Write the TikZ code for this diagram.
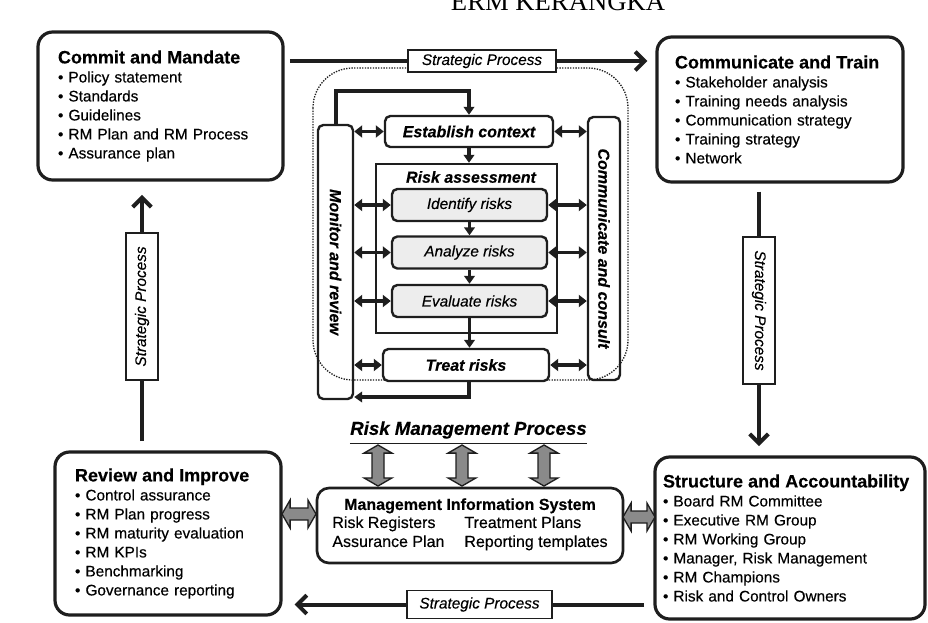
\documentclass[tikz,border=0pt]{standalone}
\usepackage{fontspec}
\setmainfont{Liberation Sans}[FakeBold=0.35]
\newfontfamily\serifhead{Liberation Serif}
\usetikzlibrary{arrows.meta,shapes.arrows}
\newcommand\boxtitle[1]{{\bfseries\fontsize{13.5}{14.25}\selectfont #1}}

\begin{document}
\begin{tikzpicture}[x=0.75pt,y=-0.75pt,
  panel/.style={draw=ink,line width=2.4pt,rounded corners=11pt,inner sep=0pt,align=left,
    font=\fontsize{11.5}{14.25}\selectfont},
  tag/.style={draw=ink,line width=1.3pt,fill=white,inner sep=0pt,
    font=\itshape\fontsize{11.5}{13}\selectfont},
  trunk/.style={draw=ink,line width=3pt},
  barb/.style={-{Straight Barb[length=7pt,width=14pt]}},
  bar/.style={draw=ink,line width=1.8pt,rounded corners=4pt},
  stage/.style={draw=ink,line width=1.8pt,rounded corners=4pt,fill=white,inner sep=0pt,
    font=\bfseries\itshape\fontsize{12}{14}\selectfont},
  task/.style={stage,fill=softgray,font=\itshape\fontsize{11.5}{14}\selectfont,
    minimum width=116.25pt,minimum height=24pt},
  flow/.style={draw=ink,line width=2.4pt,-{Triangle[length=6pt,width=8pt]}},
  link/.style={draw=ink,line width=2.4pt,{Triangle[length=6pt,width=9pt]}-{Triangle[length=6pt,width=9pt]}},
  fat/.style={double arrow,draw=ink,fill=fatgray,line width=1pt,inner xsep=0pt,inner ysep=4pt,
    double arrow head extend=6pt,double arrow tip angle=120}]
\definecolor{ink}{HTML}{1E1E1E}
\definecolor{fatgray}{HTML}{8A8A8A}
\definecolor{softgray}{HTML}{EDEDED}
\useasboundingbox (0,0) rectangle (928,622);

\node[font=\serifhead\fontsize{20}{22}\selectfont,anchor=base] (title) at (558,10) {ERM KERANGKA};

\draw[ink,line width=1pt,densely dotted,rounded corners=30pt] (313,68) rectangle (628,380);

\node[panel,minimum width=183.75pt,minimum height=111pt,text width=153.75pt] (commit) at (160.5,106)
  {\boxtitle{Commit and Mandate}\\ \textbullet\ Policy statement\\ \textbullet\ Standards\\
   \textbullet\ Guidelines\\ \textbullet\ RM Plan and RM Process\\ \textbullet\ Assurance plan};
\node[panel,minimum width=184.5pt,minimum height=108.75pt,text width=157.5pt] (train) at (780,109.5)
  {\boxtitle{Communicate and Train}\\ \textbullet\ Stakeholder analysis\\ \textbullet\ Training needs analysis\\
   \textbullet\ Communication strategy\\ \textbullet\ Training strategy\\ \textbullet\ Network};
\node[panel,minimum width=169.5pt,minimum height=122.25pt,text width=139.5pt] (review) at (168,533.5)
  {\boxtitle{Review and Improve}\\ \textbullet\ Control assurance\\ \textbullet\ RM Plan progress\\
   \textbullet\ RM maturity evaluation\\ \textbullet\ RM KPIs\\ \textbullet\ Benchmarking\\
   \textbullet\ Governance reporting};
\node[panel,minimum width=202.5pt,minimum height=121.5pt,text width=190.5pt] (structure) at (790,538)
  {\boxtitle{Structure and Accountability}\\ \textbullet\ Board RM Committee\\ \textbullet\ Executive RM Group\\
   \textbullet\ RM Working Group\\ \textbullet\ Manager, Risk Management\\ \textbullet\ RM Champions\\
   \textbullet\ Risk and Control Owners};
\node[panel,rounded corners=9pt,line width=2pt,align=center,minimum width=229.5pt,minimum height=56.25pt,
  font=\fontsize{12}{14.25}\selectfont] (mis) at (470,525.5)
  {\textbf{Management Information System}\\
   \begin{tabular}{@{}l@{\hspace{15pt}}l@{}}Risk Registers & Treatment Plans\\
   Assurance Plan & Reporting templates\end{tabular}};

\node[tag,minimum width=111pt,minimum height=16.5pt] (toplbl) at (482,61) {Strategic Process};
\node[tag,rotate=-90,minimum width=110pt,minimum height=24pt] (rightlbl) at (759,310.5) {Strategic Process};
\node[tag,minimum width=108.75pt,minimum height=21pt] (botlbl) at (479.5,604.5) {Strategic Process};
\node[tag,rotate=90,minimum width=110pt,minimum height=24pt] (leftlbl) at (142,306.5) {Strategic Process};

\draw[trunk,shorten <=4pt] (commit.east |- toplbl) -- (toplbl.west);
\draw[trunk,barb,shorten >=6pt] (toplbl.east) -- (train.west |- toplbl);
\draw[trunk,shorten <=6pt] (train.south -| rightlbl) -- (rightlbl.west);
\draw[trunk,barb,shorten >=7pt] (rightlbl.east) -- (structure.north -| rightlbl);
\draw[trunk,shorten <=7pt] (structure.west |- botlbl) -- (botlbl.east);
\draw[trunk,barb,shorten >=9pt] (botlbl.west) -- (review.east |- botlbl);
\draw[trunk,shorten <=7pt] (review.north -| leftlbl) -- (leftlbl.west);
\draw[trunk,barb,shorten >=10pt] (leftlbl.east) -- (commit.south -| leftlbl);

\node[bar,minimum width=26.25pt,minimum height=205.5pt,
  label={[rotate=-90,font=\bfseries\itshape\fontsize{12}{14}\selectfont]center:Monitor and review}] (monitor) at (335.5,262) {};
\node[bar,minimum width=24pt,minimum height=197.25pt,
  label={[rotate=-90,font=\bfseries\itshape\fontsize{12}{14}\selectfont]center:Communicate and consult}] (consult) at (604,248.5) {};
\node[stage,minimum width=126pt,minimum height=23.25pt] (establish) at (469,131.5) {Establish context};
\node[draw=ink,line width=1.8pt,minimum width=135.75pt,minimum height=126.75pt] (assess) at (466.5,248.5) {};
\node[font=\bfseries\itshape\fontsize{12}{14}\selectfont] (assesslbl) at (471,177) {Risk assessment};
\node[task] (identify) at (469.5,205) {Identify risks};
\node[task] (analyze) at (469.5,252.5) {Analyze risks};
\node[task] (evaluate) at (469.5,301) {Evaluate risks};
\node[stage,minimum width=124.5pt,minimum height=24pt] (treat) at (466,365) {Treat risks};

\coordinate (fbtop) at (336,91);
\coordinate (fbbot) at (469,397);
\draw[flow] (monitor.north -| fbtop) -- (fbtop) -| (establish.north);
\draw[flow] (establish.south) -- (establish.south |- assess.north);
\draw[flow] (identify.south) -- (analyze.north);
\draw[flow] (analyze.south) -- (evaluate.north);
\draw[flow] (evaluate.south) -- (evaluate.south |- treat.north);
\draw[flow] (treat.south -| fbbot) -- (fbbot) -- (fbbot -| monitor.east);
\foreach \s in {establish,identify,analyze,evaluate,treat}{
  \draw[link] (monitor.east |- \s) -- (\s.west);
  \draw[link] (\s.east) -- (consult.west |- \s);
}

\node[font=\bfseries\itshape\fontsize{14}{16}\selectfont,inner xsep=0pt] (rmp) at (468.5,430) {Risk Management Process};
\draw[ink,line width=1.2pt] (rmp.south west) -- (rmp.south east);
\node[fat,minimum height=25.5pt] (leftfat) at (299,514) {};
\node[fat,minimum height=24pt] (rightfat) at (639,517) {};
\foreach \x/\n in {378/a,462/b,544/c}
  \node[fat,rotate=90,minimum height=30.75pt] (feed\n) at (\x,465.5) {};
\end{tikzpicture}
\end{document}
